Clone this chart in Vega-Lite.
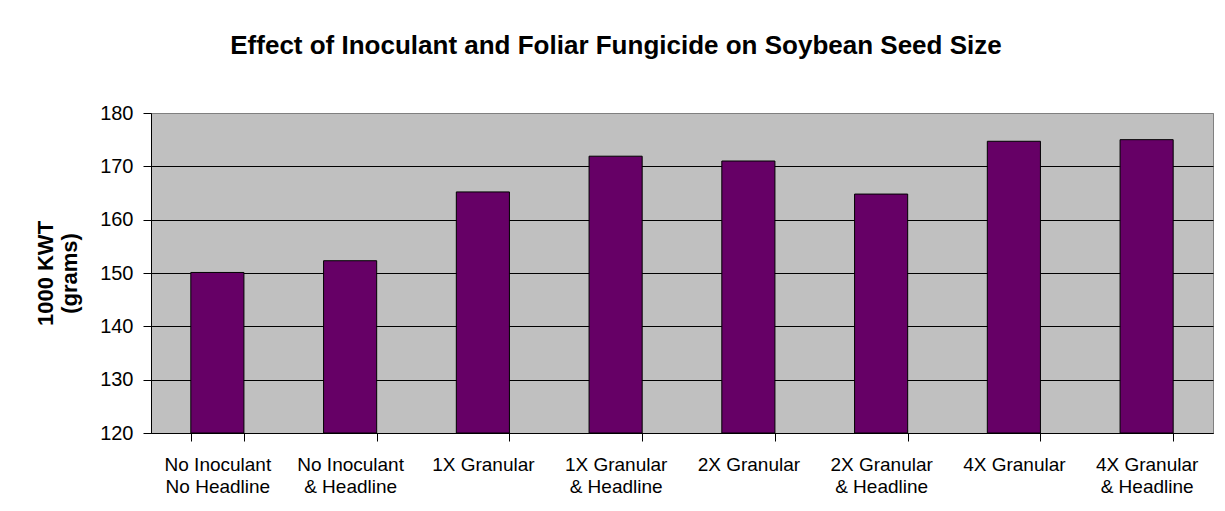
{
  "$schema": "https://vega.github.io/schema/vega-lite/v6.json",
  "autosize": "none",
  "width": 1062,
  "height": 320,
  "padding": {"left": 151, "top": 113, "right": 12, "bottom": 78},
  "background": "white",
  "title": {
    "text": "Effect of Inoculant and Foliar Fungicide on Soybean Seed Size",
    "font": "Liberation Sans",
    "fontSize": 26,
    "fontWeight": "bold",
    "color": "black",
    "anchor": "middle",
    "dx": -66,
    "baseline": "alphabetic",
    "offset": 23
  },
  "data": {
    "values": [
      {"treatment": "No Inoculant|No Headline", "kwt": 150.1},
      {"treatment": "No Inoculant|& Headline", "kwt": 152.3},
      {"treatment": "1X Granular", "kwt": 165.2},
      {"treatment": "1X Granular|& Headline", "kwt": 171.9},
      {"treatment": "2X Granular", "kwt": 171.0},
      {"treatment": "2X Granular|& Headline", "kwt": 164.8},
      {"treatment": "4X Granular", "kwt": 174.7},
      {"treatment": "4X Granular|& Headline", "kwt": 175.0}
    ]
  },
  "mark": {"type": "bar", "fill": "#660066", "stroke": "black", "strokeWidth": 1},
  "encoding": {
    "x": {
      "field": "treatment",
      "type": "nominal",
      "sort": null,
      "scale": {"paddingInner": 0.6, "paddingOuter": 0.3},
      "axis": {
        "title": null,
        "labelAngle": 0,
        "labelExpr": "split(datum.label, '|')",
        "labelFont": "Liberation Sans",
        "labelFontSize": 19,
        "labelColor": "black",
        "labelLineHeight": 22,
        "labelPadding": 14,
        "labelBaseline": "top",
        "tickBand": "extent",
        "tickSize": 8,
        "tickColor": "black",
        "domainColor": "black",
        "labelLimit": 200
      }
    },
    "y": {
      "field": "kwt",
      "type": "quantitative",
      "scale": {"domain": [120, 180], "nice": false, "zero": false},
      "axis": {
        "title": ["1000 KWT", "(grams)"],
        "titleFont": "Liberation Sans",
        "titleFontSize": 22,
        "titleFontWeight": "bold",
        "titleColor": "black",
        "titleLineHeight": 24,
        "titlePadding": 18,
        "values": [120, 130, 140, 150, 160, 170, 180],
        "labelFont": "Liberation Sans",
        "labelFontSize": 20,
        "labelColor": "black",
        "labelPadding": 10,
        "tickSize": 8,
        "tickColor": "black",
        "domainColor": "black",
        "grid": true,
        "gridColor": {"condition": {"test": "datum.value == 180", "value": "#808080"}, "value": "black"},
        "gridOpacity": 1
      }
    },
    "y2": {"datum": 120}
  },
  "config": {
    "view": {"fill": "#C0C0C0", "stroke": "#808080", "strokeWidth": 1}
  }
}
